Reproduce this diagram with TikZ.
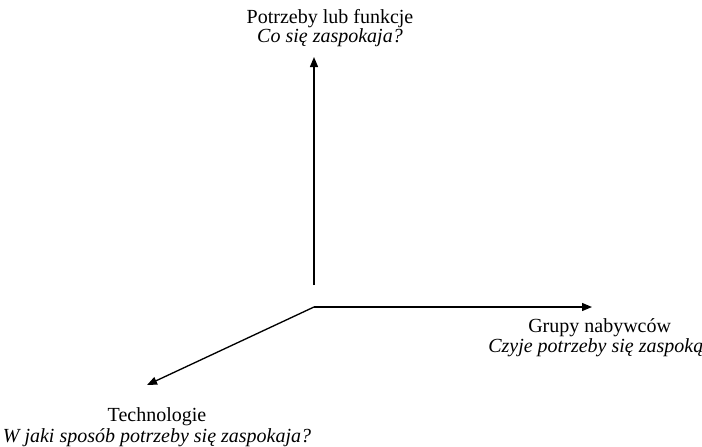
\documentclass[tikz,border=0pt]{standalone}
\usepackage{fontspec}
\setmainfont{Liberation Serif}
\usetikzlibrary{arrows, arrows.meta}
\usetikzlibrary{calc}

\begin{document}
\begin{tikzpicture}[x=0.75pt, y=-0.75pt,
    dimarrow/.style={line width=1pt, -{Triangle[length=7.5pt, width=6pt]}},
    dimtext/.style={inner sep=0pt, anchor=base, font=\fontsize{15}{17}\selectfont}]
    \useasboundingbox (0,0) rectangle (702,446);

    \coordinate (o) at (314,307);
    \coordinate (ostart) at (314,285);
    \coordinate (needs) at (314,57);
    \coordinate (groups) at (592,307);
    \coordinate (tech) at (147,385);

    \draw[dimarrow] (ostart) -- (needs);
    \draw[dimarrow] (o) -- (groups);
    \draw[dimarrow] (o) -- (tech);

    \node[dimtext] (needs1) at (330,23) {Potrzeby lub funkcje};
    \node[dimtext] (needs2) at (330,42) {\itshape Co się zaspokaja?};
    \node[dimtext, anchor=base west] (groups1) at (528,332) {Grupy nabywców};
    \node[dimtext, anchor=base west] (groups2) at (488,352) {\itshape Czyje potrzeby się zaspoką};
    \node[dimtext] (tech1) at (157,421) {Technologie};
    \node[dimtext] (tech2) at (157,442) {\itshape W jaki sposób potrzeby się zaspokaja?};
  \end{tikzpicture}
\end{document}
